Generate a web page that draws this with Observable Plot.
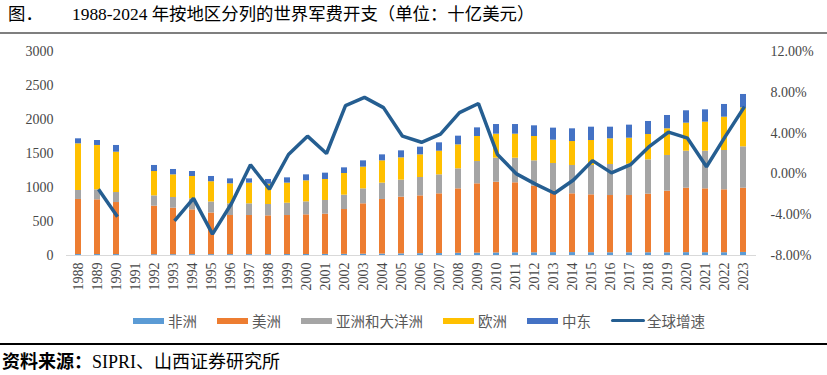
<!DOCTYPE html>
<html>
<head>
<meta charset="utf-8">
<script src="https://cdn.jsdelivr.net/npm/d3@7"></script>
<script src="https://cdn.jsdelivr.net/npm/@observablehq/plot@0.6"></script>
<style>
  html, body { margin: 0; padding: 0; background: #fff; }
  body { width: 827px; height: 375px; overflow: hidden; position: relative;
         font-family: "Liberation Serif", "Noto Sans CJK SC", serif; color: #000; }
  #title { position: absolute; left: 8px; top: 3px; font-size: 17.4px; line-height: 22px; white-space: nowrap; }
  #title .fig { display: inline-block; width: 64px; }
  #rule1 { position: absolute; left: 0; top: 32px; width: 827px; height: 2px; background: #7f7f7f; }
  #chart, #overlay { position: absolute; left: 0; top: 40px; }
  #overlay { pointer-events: none; }
  #legend { position: absolute; left: 133px; top: 310px; display: flex; align-items: center; gap: 20px;
            font-family: "Noto Sans CJK SC", sans-serif; font-size: 14.5px; color: #595959; white-space: nowrap; }
  #legend .item { display: flex; align-items: center; gap: 4px; }
  #legend .sw { width: 31px; height: 6px; }
  #legend .ln { width: 34px; height: 3px; border-radius: 1.5px; }
  #rule2 { position: absolute; left: 0; top: 343px; width: 827px; height: 1.5px; background: #000; }
  #source { position: absolute; left: 2px; top: 350px; font-size: 18px; line-height: 24px; white-space: nowrap; }
  #source b { font-weight: bold; }
</style>
</head>
<body>
<div id="title"><span class="fig">图．</span>1988-2024 年按地区分列的世界军费开支（单位：十亿美元）</div>
<div id="rule1"></div>
<div id="chart"></div>
<div id="overlay"></div>
<div id="legend"></div>
<div id="rule2"></div>
<div id="source"><b>资料来源：</b>SIPRI、山西证券研究所</div>
<script>
// ---- data (billions USD; growth in %) ----
const years = ["1988","1989","1990","1991","1992","1993","1994","1995","1996","1997","1998","1999",
  "2000","2001","2002","2003","2004","2005","2006","2007","2008","2009","2010","2011","2012","2013",
  "2014","2015","2016","2017","2018","2019","2020","2021","2022","2023"];
const regions = ["非洲", "美洲", "亚洲和大洋洲", "欧洲", "中东"];
const regionColors = ["#5B9BD5", "#ED7D31", "#A5A5A5", "#FFC000", "#4472C4"];
const africa   = [14,14,14,null,12,12,13,13,13,13,13,14,15,16,17,19,21,24,27,29,33,35,37,40,40,42,43,41,40,40,40,40,42,41,41,45];
const americas = [810,805,765,null,713,684,658,612,575,575,570,574,583,592,659,741,803,834,850,878,947,1019,1041,1029,979,909,864,851,842,842,862,906,948,939,925,945];
const asiaOceania = [132,147,147,null,152,157,162,162,172,172,167,181,191,201,211,220,240,250,270,279,295,328,353,362,373,402,417,432,456,461,505,525,544,554,578,608];
const europe   = [686,652,593,null,358,333,329,298,294,304,299,295,309,309,319,319,328,328,333,348,352,368,353,353,358,343,352,367,378,382,372,392,412,427,490,574];
const middleEast = [74,73,99,null,89,79,73,77,73,63,69,78,88,93,83,93,88,103,113,123,128,127,142,142,157,177,187,196,171,192,192,196,182,181,187,196];
const growth = [null,-1.5,-4.2,null,null,-4.6,-2.4,-5.9,-2.9,0.9,-1.5,1.9,3.7,2.0,6.7,7.5,6.5,3.7,3.1,3.9,6.0,6.9,1.9,0.0,-1.0,-1.9,-0.6,1.3,0.1,0.9,2.7,4.1,3.5,0.7,3.7,6.6];
const leftTicks = [0, 500, 1000, 1500, 2000, 2500, 3000];
const rightTicks = [-8, -4, 0, 4, 8, 12];
const lineName = "全球增速";
const lineColor = "#255E91";

// ---- build tables ----
const seriesValues = [africa, americas, asiaOceania, europe, middleEast];
const bars = [];
regions.forEach((r, k) => {
  years.forEach((y, i) => {
    const v = seriesValues[k][i];
    if (v != null) bars.push({year: y, region: r, value: v});
  });
});
const lineData = years.map((y, i) => ({year: y, g: growth[i] == null ? NaN : growth[i]}));

const W = 827, H = 275;
const margins = {marginTop: 11, marginBottom: 60, marginLeft: 66, marginRight: 71};
const tickStyle = {fontFamily: "Liberation Serif, serif", fontSize: "14px", color: "#474747", background: "transparent", overflow: "visible"};

const chart = Plot.plot({
  width: W, height: H, ...margins,
  style: tickStyle,
  x: {type: "band", domain: years, paddingInner: 0.66, paddingOuter: 0.33, align: 0.5},
  y: {domain: [0, 3000]},
  color: {domain: regions, range: regionColors},
  marks: [
    Plot.barY(bars, {x: "year", y: "value", fill: "region", order: regions}),
    Plot.ruleY([0], {stroke: "#d9d9d9", strokeWidth: 1}),
    Plot.axisY({ticks: leftTicks, tickFormat: d3.format("d"), tickSize: 0, tickPadding: 13, label: null}),
    Plot.axisX({tickRotate: -90, tickSize: 0, tickPadding: 7, label: null})
  ]
});
document.getElementById("chart").appendChild(chart);

const overlay = Plot.plot({
  width: W, height: H, ...margins,
  style: tickStyle,
  x: {type: "point", domain: years, padding: 0.5, align: 0.5, axis: null},
  y: {domain: [-8, 12]},
  marks: [
    Plot.line(lineData, {x: "year", y: "g", stroke: lineColor, strokeWidth: 3.5, strokeLinejoin: "miter", strokeLinecap: "butt"}),
    Plot.axisY({anchor: "right", ticks: rightTicks, tickFormat: d => d.toFixed(2) + "%", tickSize: 0, tickPadding: 14, label: null})
  ]
});
document.getElementById("overlay").appendChild(overlay);

// ---- legend ----
const legend = document.getElementById("legend");
regions.forEach((r, k) => {
  const it = document.createElement("div"); it.className = "item";
  const sw = document.createElement("div"); sw.className = "sw"; sw.style.background = regionColors[k];
  const tx = document.createElement("span"); tx.textContent = r;
  it.appendChild(sw); it.appendChild(tx); legend.appendChild(it);
});
{
  const it = document.createElement("div"); it.className = "item"; it.style.gap = "2px";
  const sw = document.createElement("div"); sw.className = "ln"; sw.style.background = lineColor;
  const tx = document.createElement("span"); tx.textContent = lineName;
  it.appendChild(sw); it.appendChild(tx); legend.appendChild(it);
}
</script>
</body>
</html>
